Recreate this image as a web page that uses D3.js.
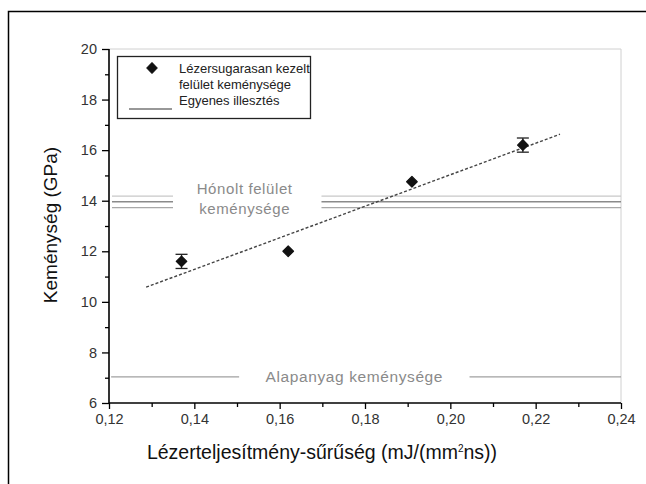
<!DOCTYPE html>
<html><head><meta charset="utf-8">
<script src="https://cdn.jsdelivr.net/npm/d3@7"></script>
<style>body{margin:0;background:#fff}svg{display:block}</style>
</head><body>
<script>
const xs = [0.137, 0.162, 0.191, 0.217];
const ys = [11.6, 12.0, 14.75, 16.2];
const errs = [0.28, 0, 0, 0.28];
const fitX = [0.1287, 0.2257];
const fitY = [10.58, 16.63];
const honoltLevels = [14.18, 13.96, 13.73];
const honoltColors = ["#c8c8c8", "#8a8a8a", "#a8a8a8"];
const alapLevel = 7.03;
const xTicks = [0.12, 0.14, 0.16, 0.18, 0.20, 0.22, 0.24];
const yTicks = [6, 8, 10, 12, 14, 16, 18, 20];

const W = 646, H = 484;
const svg = d3.select("body").append("svg").attr("width", W).attr("height", H);
const x = d3.scaleLinear().domain([0.12, 0.24]).range([109, 621]);
const y = d3.scaleLinear().domain([6, 20]).range([403, 49]);
const font = "Liberation Sans, Arial, sans-serif";

// outer frame
svg.append("path").attr("d", `M8.5,${H}V11.5H${W}`).attr("fill", "none").attr("stroke", "#000").attr("stroke-width", 1.5);

// plot top/right border light gray
svg.append("path").attr("d", `M${x(0.12)},${y(20)}H${x(0.24)}V${y(6)}`).attr("fill", "none").attr("stroke", "#d0d0d0").attr("stroke-width", 1);

// Hónolt reference lines
honoltLevels.forEach((v, i) => {
  [[0.1207, 0.1350], [0.1698, 0.24]].forEach(seg => {
    svg.append("line").attr("x1", x(seg[0])).attr("x2", x(seg[1]))
      .attr("y1", y(v)).attr("y2", y(v)).attr("stroke", honoltColors[i]).attr("stroke-width", 1.3);
  });
});
const hg = svg.append("g").attr("font-family", font).attr("font-size", 15).attr("fill", "#8a8a8a")
  .attr("text-anchor", "middle").attr("letter-spacing", 0.6);
hg.append("text").attr("x", x(0.1518)).attr("y", y(14.28)).text("Hónolt felület");
hg.append("text").attr("x", x(0.1518)).attr("y", y(13.48)).text("keménysége");

// Alapanyag line
[[0.1205, 0.1505], [0.2045, 0.24]].forEach(seg => {
  svg.append("line").attr("x1", x(seg[0])).attr("x2", x(seg[1]))
    .attr("y1", y(alapLevel)).attr("y2", y(alapLevel)).attr("stroke", "#a0a0a0").attr("stroke-width", 1.2);
});
svg.append("text").attr("x", x(0.1775)).attr("y", y(alapLevel) + 5.5).attr("text-anchor", "middle")
  .attr("font-family", font).attr("font-size", 15.5).attr("letter-spacing", 0.6).attr("fill", "#8a8a8a").text("Alapanyag keménysége");

// fit line
svg.append("line").attr("x1", x(fitX[0])).attr("y1", y(fitY[0])).attr("x2", x(fitX[1])).attr("y2", y(fitY[1]))
  .attr("stroke", "#444").attr("stroke-width", 1.4).attr("stroke-dasharray", "3,2");

// error bars
xs.forEach((xv, i) => {
  if (!errs[i]) return;
  const g = svg.append("g").attr("stroke", "#222").attr("stroke-width", 1.3);
  g.append("line").attr("x1", x(xv)).attr("x2", x(xv)).attr("y1", y(ys[i] + errs[i])).attr("y2", y(ys[i] - errs[i]));
  [ys[i] + errs[i], ys[i] - errs[i]].forEach(v => g.append("line").attr("x1", x(xv) - 6).attr("x2", x(xv) + 6).attr("y1", y(v)).attr("y2", y(v)));
});
// points (rotated squares)
const sym = d3.symbol().type(d3.symbolSquare).size(56);
xs.forEach((xv, i) => {
  svg.append("path").attr("d", sym()).attr("transform", `translate(${x(xv)},${y(ys[i])}) rotate(45)`)
    .attr("fill", "#111").attr("stroke", "#111").attr("stroke-width", 1.2).attr("stroke-linejoin", "round");
});

// axes
const fmt = d => d3.format(".2f")(d).replace(".", ",");
const xAxis = svg.append("g").attr("transform", `translate(0,${y(6)})`)
  .call(d3.axisBottom(x).tickValues(xTicks).tickSize(6).tickPadding(5).tickFormat(fmt));
const xMinor = svg.append("g").attr("transform", `translate(0,${y(6)})`)
  .call(d3.axisBottom(x).tickValues([0.13, 0.15, 0.17, 0.19, 0.21, 0.23]).tickSize(4).tickFormat(""));
xMinor.select(".domain").remove();
const yAxis = svg.append("g").attr("transform", `translate(${x(0.12)},0)`)
  .call(d3.axisLeft(y).tickValues(yTicks).tickSize(7).tickPadding(5).tickFormat(d3.format("d")));
const yMinor = svg.append("g").attr("transform", `translate(${x(0.12)},0)`)
  .call(d3.axisLeft(y).tickValues([7, 9, 11, 13, 15, 17, 19]).tickSize(4).tickFormat(""));
yMinor.select(".domain").remove();
[xAxis, yAxis, xMinor, yMinor].forEach(a => {
  a.selectAll(".domain").attr("stroke", "#000").attr("stroke-width", 1.6);
  a.selectAll(".tick line").attr("stroke", "#000").attr("stroke-width", 1.3);
  a.selectAll("text").attr("font-family", font).attr("font-size", 14.5).attr("fill", "#333");
});
xAxis.selectAll(".domain").attr("d", `M${x(0.12)},0H${x(0.24)}`);
yAxis.selectAll(".domain").attr("d", `M0,${y(6)}V${y(20)}`);

// axis titles
svg.append("text").attr("x", 322).attr("y", 459).attr("text-anchor", "middle")
  .attr("font-family", font).attr("font-size", 19.5).attr("fill", "#111")
  .html('Lézerteljesítmény-sűrűség (mJ/(mm<tspan dy="-7" font-size="10">2</tspan><tspan dy="7">ns))</tspan>');
svg.append("text").attr("transform", `translate(57,225) rotate(-90)`).attr("text-anchor", "middle")
  .attr("font-family", font).attr("font-size", 19).attr("fill", "#111").text("Keménység (GPa)");

// legend
const lg = svg.append("g");
lg.append("rect").attr("x", 117.5).attr("y", 56.5).attr("width", 193).attr("height", 62)
  .attr("fill", "#fff").attr("stroke", "#222").attr("stroke-width", 1.3);
lg.append("path").attr("d", sym()).attr("transform", `translate(152,68) rotate(45)`)
  .attr("fill", "#111").attr("stroke", "#111").attr("stroke-width", 1).attr("stroke-linejoin", "round");
lg.append("line").attr("x1", 129).attr("x2", 172).attr("y1", 109).attr("y2", 109).attr("stroke", "#333").attr("stroke-width", 1.2);
const lt = lg.append("g").attr("font-family", font).attr("font-size", 13).attr("fill", "#222");
lt.append("text").attr("x", 179).attr("y", 73).text("Lézersugarasan kezelt");
lt.append("text").attr("x", 179).attr("y", 89).text("felület keménysége");
lt.append("text").attr("x", 179).attr("y", 105).text("Egyenes illesztés");
</script>
</body></html>
